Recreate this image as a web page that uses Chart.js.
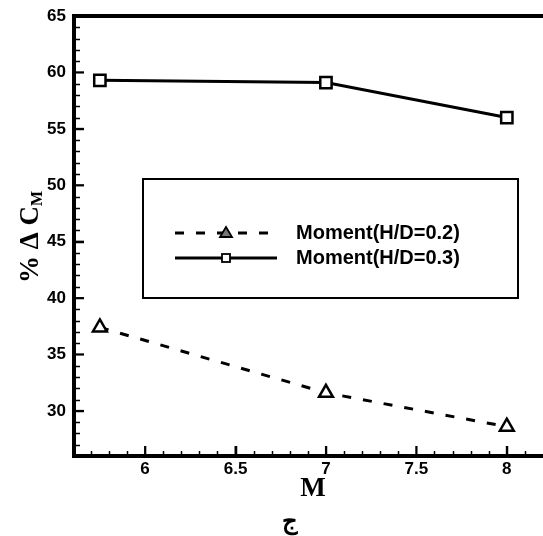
<!DOCTYPE html>
<html>
<head>
<meta charset="utf-8">
<script src="https://cdn.jsdelivr.net/npm/chart.js@4"></script>
<style>
  html, body { margin: 0; padding: 0; background: #fff; overflow: hidden; }
  #grafico { display: block; }
</style>
</head>
<body>
<canvas id="grafico" width="543" height="536"></canvas>
<script>
// dados do gráfico
const machValores = [5.75, 7, 8];
const momentoHD02 = [37.4, 31.6, 28.6];
const momentoHD03 = [59.3, 59.1, 56.0];
const rotulosSerie = ["Moment(H/D=0.2)", "Moment(H/D=0.3)"];
const ticksX = [6, 6.5, 7, 7.5, 8];
const ticksY = [30, 35, 40, 45, 50, 55, 60, 65];

const fonteNum = "bold 17px 'Liberation Sans', Arial, sans-serif";
const fonteSerif = "'Liberation Serif', 'Times New Roman', serif";

function pontos(xs, ys) {
  return xs.map((x, i) => ({ x, y: ys[i] }));
}

/* ---------- moldura, ticks para dentro, rótulos e legenda ---------- */
const molduraPlugin = {
  id: "moldura",
  afterDraw(chart) {
    const ctx = chart.ctx;
    const ca = chart.chartArea;
    const sx = chart.scales.x;
    const sy = chart.scales.y;
    const W = chart.width;

    ctx.save();
    ctx.strokeStyle = "#000";
    ctx.fillStyle = "#000";
    ctx.lineCap = "butt";

    // ticks menores e maiores (para dentro)
    ctx.lineWidth = 1.5;
    for (let v = 27; v <= 64; v++) {
      const y = Math.round(sy.getPixelForValue(v)) + 0.5;
      const len = v % 5 === 0 ? 10 : 6;
      ctx.beginPath(); ctx.moveTo(ca.left, y); ctx.lineTo(ca.left + len, y); ctx.stroke();
    }
    for (let i = 57; i <= 81; i++) {
      const v = i / 10;
      const x = Math.round(sx.getPixelForValue(v)) + 0.5;
      const len = i % 5 === 0 ? 10 : 5;
      ctx.beginPath(); ctx.moveTo(x, ca.bottom); ctx.lineTo(x, ca.bottom - len); ctx.stroke();
    }
    ctx.lineWidth = 2;
    ticksY.forEach(v => {
      const y = sy.getPixelForValue(v);
      ctx.beginPath(); ctx.moveTo(ca.left, y); ctx.lineTo(ca.left + 10, y); ctx.stroke();
    });
    ticksX.forEach(v => {
      const x = sx.getPixelForValue(v);
      ctx.beginPath(); ctx.moveTo(x, ca.bottom); ctx.lineTo(x, ca.bottom - 10); ctx.stroke();
    });

    // eixos
    ctx.lineWidth = 4;
    ctx.beginPath();
    ctx.moveTo(W, ca.top);
    ctx.lineTo(ca.left, ca.top);
    ctx.lineTo(ca.left, ca.bottom);
    ctx.lineTo(W, ca.bottom);
    ctx.stroke();

    // rótulos dos ticks
    ctx.font = fonteNum;
    ctx.textAlign = "right";
    ctx.textBaseline = "middle";
    ticksY.forEach(v => ctx.fillText(String(v), ca.left - 8, sy.getPixelForValue(v)));
    ctx.textAlign = "center";
    ctx.textBaseline = "top";
    ticksX.forEach(v => ctx.fillText(String(v), sx.getPixelForValue(v), ca.bottom + 5));

    // título do eixo x
    ctx.font = "bold 27px " + fonteSerif;
    ctx.textBaseline = "alphabetic";
    ctx.fillText("M", 313, 496);

    // título do eixo y: % Δ C com M subscrito
    ctx.save();
    ctx.translate(38, 237);
    ctx.rotate(-Math.PI / 2);
    ctx.font = "bold 27px " + fonteSerif;
    const principal = "% \u0394 C";
    const wP = ctx.measureText(principal).width;
    ctx.font = "bold 16px " + fonteSerif;
    const wS = ctx.measureText("M").width;
    const x0 = -(wP + wS) / 2;
    ctx.textAlign = "left";
    ctx.font = "bold 27px " + fonteSerif;
    ctx.fillText(principal, x0, 0);
    ctx.font = "bold 16px " + fonteSerif;
    ctx.fillText("M", x0 + wP, 4);
    ctx.restore();

    // letra abaixo do gráfico
    ctx.font = "bold 24px " + fonteSerif;
    ctx.textAlign = "center";
    ctx.textBaseline = "alphabetic";
    ctx.fillText("\u062C", 290, 529);

    // legenda em caixa
    ctx.lineWidth = 2;
    ctx.strokeRect(143, 179, 375, 119);
    const linhas = [233, 258];
    chart.data.datasets.forEach((ds, i) => {
      const y = linhas[i];
      ctx.lineWidth = 3;
      ctx.setLineDash(ds.borderDash || []);
      ctx.beginPath(); ctx.moveTo(175, y); ctx.lineTo(277, y); ctx.stroke();
      ctx.setLineDash([]);
      ctx.lineWidth = 1.8;
      if (ds.pointStyle === "triangle") {
        ctx.fillStyle = "#777";
        ctx.beginPath();
        ctx.moveTo(226, y - 6); ctx.lineTo(232, y + 4); ctx.lineTo(220, y + 4); ctx.closePath();
        ctx.fill(); ctx.stroke();
      } else {
        ctx.fillStyle = "#fff";
        ctx.fillRect(222, y - 4, 8, 8);
        ctx.strokeRect(222, y - 4, 8, 8);
      }
      ctx.fillStyle = "#000";
      ctx.font = "bold 20px 'Liberation Sans', Arial, sans-serif";
      ctx.textAlign = "left";
      ctx.textBaseline = "middle";
      ctx.fillText(ds.label, 296, y);
    });

    ctx.restore();
  }
};

const ctx = document.getElementById("grafico").getContext("2d");
new Chart(ctx, {
  type: "scatter",
  data: {
    datasets: [
      {
        label: rotulosSerie[0],
        data: pontos(machValores, momentoHD02),
        showLine: true,
        borderColor: "#000",
        borderWidth: 3,
        borderDash: [9, 12],
        pointStyle: "triangle",
        pointRadius: 8,
        pointBackgroundColor: "#fff",
        pointBorderColor: "#000",
        pointBorderWidth: 2.5
      },
      {
        label: rotulosSerie[1],
        data: pontos(machValores, momentoHD03),
        showLine: true,
        borderColor: "#000",
        borderWidth: 3,
        pointStyle: "rect",
        pointRadius: 8,
        pointBackgroundColor: "#fff",
        pointBorderColor: "#000",
        pointBorderWidth: 2.5
      }
    ]
  },
  options: {
    responsive: false,
    animation: false,
    devicePixelRatio: 1,
    layout: { padding: { left: 74, top: 16, right: 0, bottom: 80 } },
    plugins: { legend: { display: false }, tooltip: { enabled: false } },
    scales: {
      x: { type: "linear", min: 5.607, max: 8.142, display: false },
      y: { type: "linear", min: 26, max: 65, display: false }
    }
  },
  plugins: [molduraPlugin]
});
</script>
</body>
</html>
